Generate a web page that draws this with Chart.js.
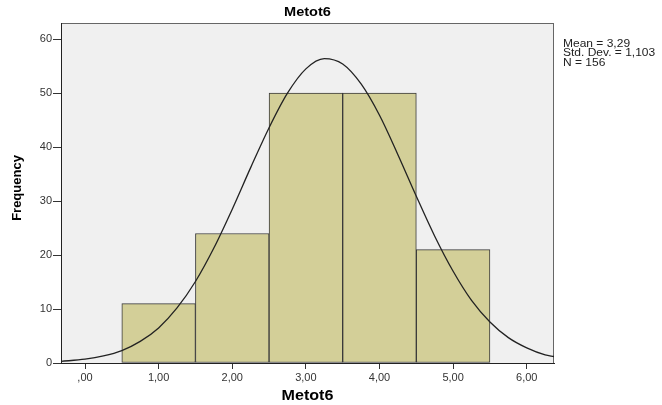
<!DOCTYPE html>
<html>
<head>
<meta charset="utf-8">
<script src="https://cdn.jsdelivr.net/npm/chart.js@4.4.1/dist/chart.umd.min.js"></script>
<style>
  body { margin: 0; background: #fff; }
  #wrap { width: 662px; height: 405px; }
</style>
</head>
<body>
<div id="wrap"><canvas id="hist" width="662" height="405"></canvas></div>
<script>
// Histogram bins (midpoints) and frequencies
const binCenters = [1, 2, 3, 4, 5];
const frequencies = [11, 24, 50, 50, 21];

// Normal curve
const curveX = [-0.33, 0, 0.25, 0.5, 0.75, 1, 1.25, 1.5, 1.75, 2, 2.25, 2.5, 2.75, 3, 3.25,
    3.5, 3.75, 4, 4.25, 4.5, 4.75, 5, 5.25, 5.5, 5.75, 6, 6.25, 6.37];
const curveY = [0.3, 0.7, 1.3, 2.3, 4.0, 6.5, 10.2, 15.1, 21.3, 28.5, 36.2, 43.6, 50.0, 54.5, 56.4,
    55.4, 51.7, 45.9, 38.6, 30.9, 23.5, 17.0, 11.6, 7.6, 4.7, 2.8, 1.5, 1.2];

// Axis ticks
const xTicks = [0, 1, 2, 3, 4, 5, 6];
const yTicks = [0, 10, 20, 30, 40, 50, 60];

const statLines = ['Mean = 3,29', 'Std. Dev. = 1,103', 'N = 156'];

const FONT = '"Liberation Sans", Arial, sans-serif';

function fmtX(v) {
    const s = v.toFixed(2).replace('.', ',');
    return s.startsWith('0') ? s.slice(1) : s;
}

// text drawn a bit wider, like the stretched SPSS export
function wideText(ctx, text, x, y, sx) {
    ctx.save();
    ctx.translate(x, y);
    ctx.scale(sx, 1);
    ctx.fillText(text, 0, 0);
    ctx.restore();
}

// plot background, frame and extra texts
const spssLook = {
    id: 'spssLook',
    beforeDraw(chart) {
        const { ctx, chartArea: a } = chart;
        ctx.save();
        ctx.fillStyle = '#f0f0f0';
        ctx.fillRect(a.left, a.top, a.right - a.left, a.bottom - a.top);
        ctx.strokeStyle = '#666';
        ctx.lineWidth = 1;
        ctx.strokeRect(a.left + 0.5, a.top + 0.5, a.right - a.left - 1, a.bottom - a.top);
        ctx.restore();
    },
    afterDraw(chart) {
        const { ctx, chartArea: a } = chart;
        const cx = (a.left + a.right) / 2;
        ctx.save();
        ctx.fillStyle = '#000';
        ctx.textAlign = 'center';
        ctx.textBaseline = 'middle';
        ctx.font = 'bold 13px ' + FONT;
        wideText(ctx, 'Metot6', cx, 12, 1.12);
        ctx.font = 'bold 14px ' + FONT;
        wideText(ctx, 'Metot6', cx, 396, 1.15);
        ctx.translate(17, 188);
        ctx.rotate(-Math.PI / 2);
        ctx.font = 'bold 13px ' + FONT;
        ctx.fillText('Frequency', 0, 0);
        ctx.restore();

        ctx.save();
        ctx.fillStyle = '#222';
        ctx.font = '10px ' + FONT;
        ctx.textAlign = 'left';
        ctx.textBaseline = 'middle';
        statLines.forEach((t, i) => wideText(ctx, t, 563, 44 + i * 9.5, 1.2));
        ctx.restore();
    }
};

const ctx = document.getElementById('hist').getContext('2d');
new Chart(ctx, {
    data: {
        datasets: [{
            type: 'line',
            data: curveX.map((x, i) => ({ x: x, y: curveY[i] })),
            borderColor: '#222',
            borderWidth: 1.3,
            pointRadius: 0,
            fill: false,
            cubicInterpolationMode: 'monotone',
            order: 0
        }, {
            type: 'bar',
            data: binCenters.map((x, i) => ({ x: x, y: frequencies[i] })),
            backgroundColor: '#d3cf98',
            borderColor: '#3a3a3a',
            borderWidth: 1,
            borderSkipped: false,
            barPercentage: 1,
            categoryPercentage: 1,
            order: 1
        }]
    },
    options: {
        responsive: false,
        animation: false,
        layout: { padding: { top: 23, right: 108, left: 0, bottom: 0 } },
        plugins: {
            legend: { display: false },
            tooltip: { enabled: false }
        },
        scales: {
            x: {
                type: 'linear',
                min: -0.326,
                max: 6.37,
                offset: false,
                afterBuildTicks: s => { s.ticks = xTicks.map(v => ({ value: v })); },
                afterFit: s => { s.height = 42; },
                ticks: {
                    callback: v => fmtX(v),
                    font: { family: FONT, size: 11 },
                    color: '#333',
                    padding: 2,
                    maxRotation: 0
                },
                grid: { offset: false, drawOnChartArea: false, tickLength: 6, color: '#333' },
                border: { color: '#222', width: 1 }
            },
            y: {
                min: 0,
                max: 63,
                afterBuildTicks: s => { s.ticks = yTicks.map(v => ({ value: v })); },
                afterFit: s => { s.width = 61; },
                ticks: {
                    font: { family: FONT, size: 11 },
                    color: '#333',
                    padding: 1
                },
                grid: { drawOnChartArea: false, tickLength: 8, color: '#333' },
                border: { color: '#222', width: 1 }
            }
        }
    },
    plugins: [spssLook]
});
</script>
</body>
</html>
